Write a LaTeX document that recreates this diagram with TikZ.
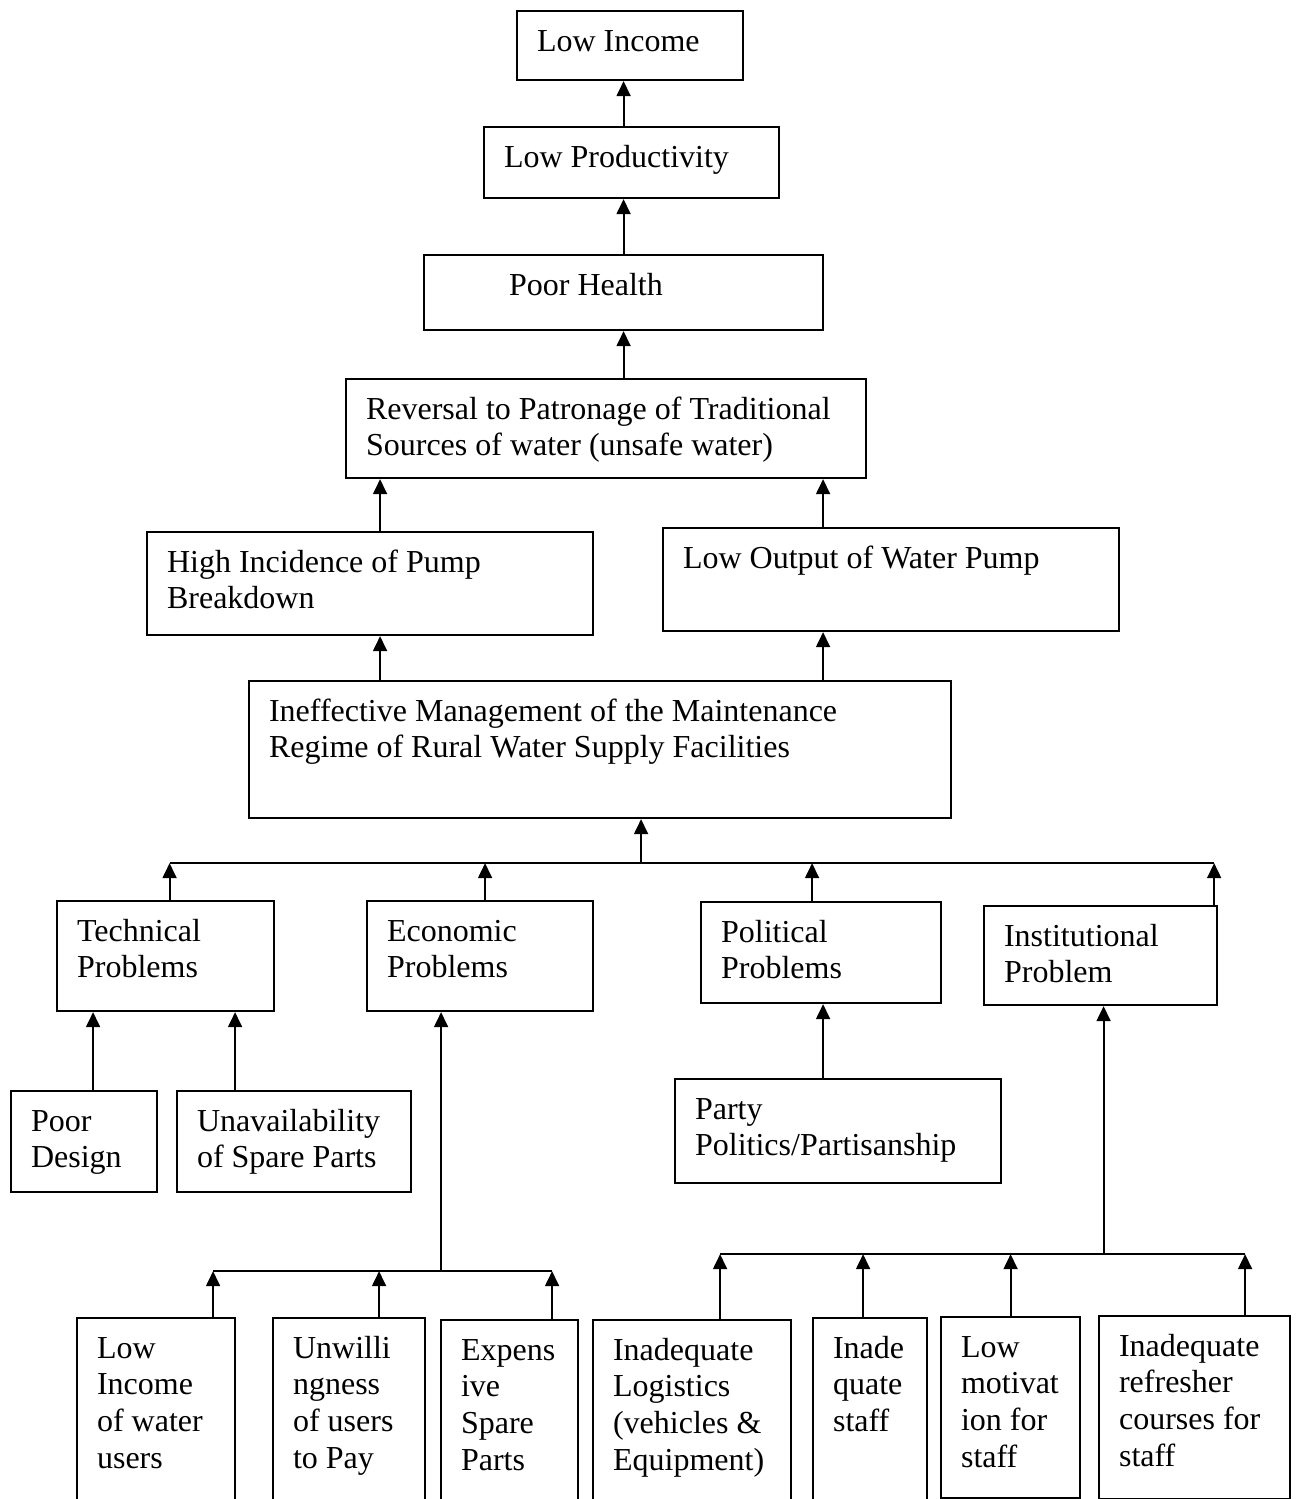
\documentclass[tikz,border=0pt]{standalone}
\usepackage{fontspec}
\setmainfont{Liberation Serif}
\usepackage{tikz}
\usetikzlibrary{arrows.meta,calc}
\newcommand{\causetext}[3]{\parbox[t][\dimexpr #2pt*3/8\relax][t]{\dimexpr #1pt*3/8\relax}{\raggedright\leftskip=7.5pt\rule{0pt}{15pt}#3}}

\begin{document}
\begin{tikzpicture}[
  x=0.375pt, y=-0.375pt,
  every node/.style={font=\fontsize{12}{13.8}\selectfont},
  cause/.style={draw,line width=0.8pt,inner sep=0pt,anchor=north west},
  link/.style={line width=0.75pt},
  >={Triangle[length=5.6pt,width=5.2pt]}
]
\useasboundingbox (0,0) rectangle (1298,1499);
\clip (0,0) rectangle (1298,1499);

\node[cause] (li) at (516,10) {\causetext{226}{69}{Low Income}};
\node[cause] (lp) at (483,126) {\causetext{295}{71}{Low Productivity}};
\node[cause] (ph) at (423,254) {\causetext{399}{75}{\hspace*{24.4pt}Poor Health}};
\node[cause] (rev) at (345,378) {\causetext{520}{99}{Reversal to Patronage of Traditional\\Sources of water (unsafe water)}};
\node[cause] (hi) at (146,531) {\causetext{446}{103}{High Incidence of Pump\\Breakdown}};
\node[cause] (lo) at (662,527) {\causetext{456}{103}{Low Output of Water Pump}};
\node[cause] (ineff) at (248,680) {\causetext{702}{137}{Ineffective Management of the Maintenance\\Regime of Rural Water Supply Facilities}};

\node[cause] (tech) at (56,900) {\causetext{217}{110}{Technical\\Problems}};
\node[cause] (econ) at (366,900) {\causetext{226}{110}{Economic\\Problems}};
\node[cause] (pol) at (700,901) {\causetext{240}{101}{Political\\Problems}};
\node[cause] (inst) at (983,905) {\causetext{233}{99}{Institutional\\Problem}};

\node[cause] (pd) at (10,1090) {\causetext{146}{101}{Poor\\Design}};
\node[cause] (spare) at (176,1090) {\causetext{234}{101}{Unavailability\\of Spare Parts}};
\node[cause] (party) at (674,1078) {\causetext{326}{104}{Party\\Politics/Partisanship}};

\node[cause] (lowinc) at (76,1317) {\causetext{158}{220}{Low\\Income\\of water\\users}};
\node[cause] (unwill) at (272,1317) {\causetext{152}{220}{Unwilli\\ngness\\of users\\to Pay}};
\node[cause] (expens) at (440,1319) {\causetext{137}{220}{Expens\\ive\\Spare\\Parts}};
\node[cause] (logis) at (592,1319) {\causetext{198}{220}{Inadequate\\Logistics\\(vehicles \&\\Equipment)}};
\node[cause] (staff) at (812,1317) {\causetext{114}{220}{Inade\\quate\\staff}};
\node[cause] (motiv) at (940,1316) {\causetext{139}{181}{Low\\motivat\\ion for\\staff}};
\node[cause] (refresh) at (1098,1315) {\causetext{191}{183}{Inadequate\\refresher\\courses for\\staff}};

\draw[link,->] (lp.north -| ph.north) -- (li.south -| ph.north);
\draw[link,->] (ph.north) -- (lp.south -| ph.north);
\draw[link,->] (rev.north -| ph.north) -- (ph.south);
\draw[link,->] ($(hi.north)+(10,0)$) coordinate (hiup) -- (hiup |- rev.south);
\draw[link,->] ($(lo.north)+(-68,0)$) coordinate (loup) -- (loup |- rev.south);
\draw[link,->] (ineff.north -| hiup) -- (hi.south -| hiup);
\draw[link,->] (ineff.north -| loup) -- (lo.south -| loup);

\coordinate (hub) at ($(ineff.south)+(41,44)$);
\coordinate (techup) at ($(tech.north)+(4,0)$);
\coordinate (econup) at ($(econ.north)+(5,0)$);
\coordinate (polup) at ($(pol.north)+(-9,0)$);
\coordinate (instup) at ($(inst.north east)+(-4,0)$);
\draw[link,->] (hub) -- (hub |- ineff.south);
\draw[link] (techup |- hub) -- (instup |- hub);
\foreach \c in {techup,econup,polup,instup}
  \draw[link,->] (\c) -- (\c |- hub);

\draw[link,->] ($(pd.north)+(9,0)$) coordinate (pdup) -- (pdup |- tech.south);
\draw[link,->] ($(spare.north)+(-59,0)$) coordinate (spareup) -- (spareup |- tech.south);
\draw[link,->] ($(party.north)+(-15,0)$) coordinate (partyup) -- (partyup |- pol.south);

\coordinate (econhub) at ($(econ.south)+(-39,259)$);
\coordinate (lowincup) at ($(lowinc.north)+(57,0)$);
\coordinate (unwillup) at ($(unwill.north)+(30,0)$);
\coordinate (expensup) at ($(expens.north)+(42.5,0)$);
\draw[link,->] (econhub) -- (econhub |- econ.south);
\draw[link] (lowincup |- econhub) -- (expensup |- econhub);
\foreach \c in {lowincup,unwillup,expensup}
  \draw[link,->] (\c) -- (\c |- econhub);

\coordinate (insthub) at ($(inst.south)+(3,248)$);
\coordinate (logisup) at ($(logis.north)+(28,0)$);
\coordinate (staffup) at ($(staff.north)+(-7,0)$);
\coordinate (motivup) at (motiv.north);
\coordinate (refreshup) at ($(refresh.north)+(50.5,0)$);
\draw[link,->] (insthub) -- (insthub |- inst.south);
\draw[link] (logisup |- insthub) -- (refreshup |- insthub);
\foreach \c in {logisup,staffup,motivup,refreshup}
  \draw[link,->] (\c) -- (\c |- insthub);

\end{tikzpicture}
\end{document}
